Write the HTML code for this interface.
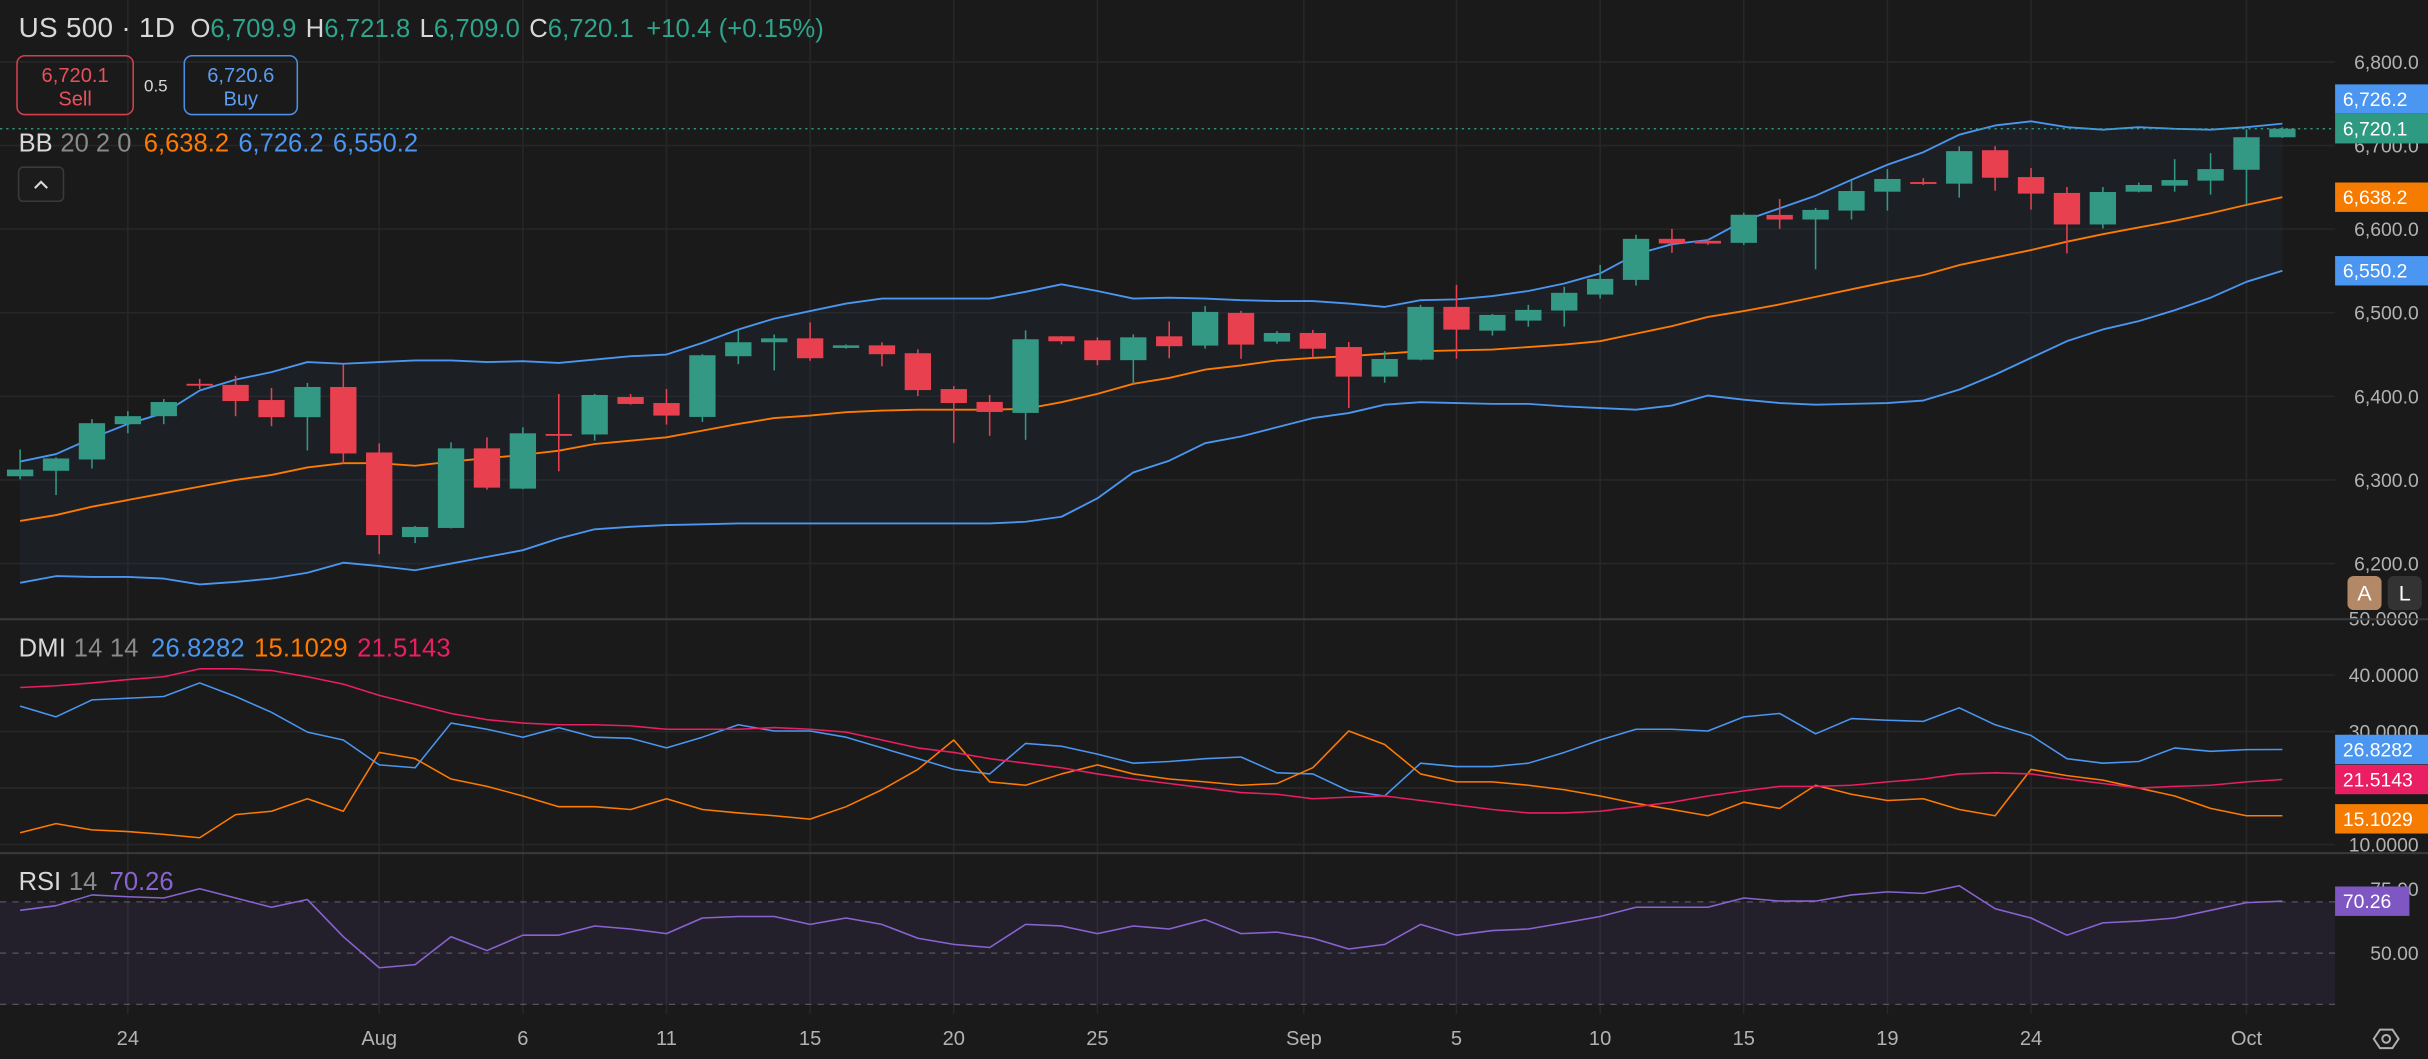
<!DOCTYPE html>
<html><head><meta charset="utf-8"><style>
html,body{margin:0;padding:0;background:#1a1a1a;overflow:hidden}
svg{display:block}
text{font-family:"Liberation Sans",sans-serif}
</style></head><body>
<svg id="chart" width="2428" height="1059" viewBox="0 0 1568 684" preserveAspectRatio="none" xmlns="http://www.w3.org/2000/svg">
<rect x="0" y="0" width="1568" height="684" fill="#1a1a1a"/>
<defs><clipPath id="plotclip"><rect x="0" y="0" width="1508" height="684"/></clipPath>
<clipPath id="mainclip"><rect x="0" y="0" width="1508" height="399"/></clipPath>
<clipPath id="dmiclip"><rect x="0" y="401" width="1508" height="149"/></clipPath>
<clipPath id="rsiclip"><rect x="0" y="552" width="1508" height="103"/></clipPath></defs>
<g id="grid"></g>
<rect x="0" y="582.5" width="1508" height="66.3" fill="rgba(126,87,194,0.10)"/>
<g id="bbfill" clip-path="url(#mainclip)"></g>
<g id="marks"></g>
<g id="axes"></g>
<line x1="0" y1="400" x2="1568" y2="400" stroke="#3a3a3a" stroke-width="1.3"/>
<line x1="0" y1="551" x2="1568" y2="551" stroke="#3a3a3a" stroke-width="1.3"/>
<g>
<text x="12" y="24" font-size="18" fill="#d8d8d8" textLength="101">US 500 · 1D</text>
<text x="123" y="24" font-size="16.5" textLength="409"><tspan fill="#d8d8d8">O</tspan><tspan fill="#2fa48c">6,709.9</tspan><tspan fill="#d8d8d8" dx="6">H</tspan><tspan fill="#2fa48c">6,721.8</tspan><tspan fill="#d8d8d8" dx="6">L</tspan><tspan fill="#2fa48c">6,709.0</tspan><tspan fill="#d8d8d8" dx="6">C</tspan><tspan fill="#2fa48c">6,720.1</tspan><tspan fill="#2fa48c" dx="8">+10.4 (+0.15%)</tspan></text>
</g>
<g>
<rect x="11" y="36" width="75" height="38" rx="5" fill="none" stroke="#d6404c" stroke-width="1"/>
<text x="48.5" y="53" font-size="13" fill="#e8505c" text-anchor="middle">6,720.1</text>
<text x="48.5" y="68" font-size="13" fill="#e8505c" text-anchor="middle">Sell</text>
</g>
<text x="93" y="59" font-size="11" fill="#d8d8d8">0.5</text>
<g>
<rect x="119" y="36" width="73" height="38" rx="5" fill="none" stroke="#4a8ee6" stroke-width="1"/>
<text x="155.5" y="53" font-size="13" fill="#5a9cf0" text-anchor="middle">6,720.6</text>
<text x="155.5" y="68" font-size="13" fill="#5a9cf0" text-anchor="middle">Buy</text>
</g>
<text x="12" y="98" font-size="16.5" textLength="258"><tspan fill="#d8d8d8">BB</tspan><tspan fill="#8a8a8a" dx="5">20 2 0</tspan><tspan fill="#ff7a00" dx="8">6,638.2</tspan><tspan fill="#4a96f0" dx="6">6,726.2</tspan><tspan fill="#4a96f0" dx="6">6,550.2</tspan></text>
<g>
<rect x="12" y="108" width="29" height="22" rx="3" fill="#1c1c1c" stroke="#3a3a3a"/>
<path d="M22.5 121.5 L26.5 117.5 L30.5 121.5" fill="none" stroke="#d8d8d8" stroke-width="1.4"/>
</g>
<text x="12" y="424" font-size="16.5" textLength="279"><tspan fill="#d8d8d8">DMI</tspan><tspan fill="#8a8a8a" dx="5">14 14</tspan><tspan fill="#4a96f0" dx="8">26.8282</tspan><tspan fill="#ff7a00" dx="6">15.1029</tspan><tspan fill="#e91e63" dx="6">21.5143</tspan></text>
<text x="12" y="575" font-size="16.5"><tspan fill="#d8d8d8">RSI</tspan><tspan fill="#8a8a8a" dx="5">14</tspan><tspan fill="#8a63d2" dx="8">70.26</tspan></text>
<g><rect x="1516" y="372" width="22" height="22" rx="4" fill="#b38866"/><text x="1527" y="388" font-size="14" fill="#fff" text-anchor="middle">A</text></g>
<g><rect x="1542" y="372" width="22" height="22" rx="4" fill="#333"/><text x="1553" y="388" font-size="14" fill="#fff" text-anchor="middle">L</text></g>
<g><path d="M1533 671 L1537 665 L1545 665 L1549 671 L1545 677 L1537 677 Z" fill="none" stroke="#b0b0b0" stroke-width="1.3"/><circle cx="1541" cy="671" r="2.5" fill="none" stroke="#b0b0b0" stroke-width="1.3"/></g>
</svg>
<script>
const opens=[6304.4,6311,6324.5,6366.7,6376.3,6415,6413.7,6395.6,6375.1,6411.2,6332.9,6231.7,6242.6,6337.8,6289.6,6355,6354.4,6399.2,6392,6375.4,6448,6464.7,6469.4,6457.9,6461,6451.6,6408.7,6393.3,6380.2,6471.8,6467,6443.3,6471.8,6460.7,6499.8,6465.5,6475.8,6459,6423.6,6443.9,6507,6478.6,6490.6,6502.6,6521.8,6539.3,6588.4,6586,6583.6,6617,6611.5,6622.2,6644.8,6656.3,6654.4,6694.4,6662.3,6643.3,6605.6,6644.8,6652,6658,6671,6709.9];
const highs=[6336.5,6327,6372.7,6382.3,6396.8,6420.9,6424.5,6410,6416,6438.2,6343.8,6245,6345,6351,6363,6402.8,6403,6402.8,6408.7,6450.4,6480.6,6474,6488.5,6462,6464.7,6456.3,6412.3,6401.6,6479,6472,6470.6,6474.2,6489.7,6508,6502.2,6478,6479.4,6465,6454,6509.4,6533.3,6498.6,6509.4,6531,6557.3,6593.2,6600.4,6588.4,6619.6,6636,6625.4,6658.7,6671.8,6661,6699,6699.2,6673,6650.4,6650.4,6655.6,6683.7,6690.9,6719.4,6721.8];
const lows=[6300.8,6282,6313.7,6355.8,6366.7,6408.8,6376.3,6364.3,6335.3,6319.7,6211.2,6224.5,6242,6288.4,6289,6310.4,6347,6390,6366.3,6369.4,6438.5,6431,6442.5,6457,6436,6400.4,6344.4,6352.8,6348,6462.3,6437.3,6415,6445.6,6457,6445,6463,6446.3,6386,6416.4,6443,6445,6472.7,6483.4,6483.4,6517,6532.5,6571.7,6581.2,6581.2,6600.4,6552,6611.5,6622.2,6652.8,6637.7,6646,6623.4,6571,6600.8,6644,6644.8,6641.3,6629.4,6709];
const closes=[6312.4,6325.7,6367.9,6376.3,6393.2,6414,6394.4,6375.1,6411.2,6331.7,6234.1,6243.8,6337.8,6290.8,6355.8,6354,6401.6,6390.9,6377,6449.2,6464.7,6469.4,6445.6,6461,6450.4,6407.5,6392,6381.3,6468.3,6465.9,6443.3,6470.6,6460,6501,6461.9,6475.8,6457,6423.6,6444.7,6507,6479.8,6497.4,6503.4,6523.8,6540.5,6588.4,6582.8,6582.8,6617.2,6611.5,6623,6645.6,6660,6654.8,6693.3,6661.5,6642.5,6605.6,6644.4,6652.8,6658.7,6671.8,6709.9,6720.1];
const bbUpper=[6322,6331,6350,6367,6380,6407,6420,6429,6441,6439,6441,6443,6443,6441,6442,6440,6444,6448,6450,6464,6480,6493,6502,6511,6517,6517,6517,6517,6525,6534,6526,6517,6518,6517,6515,6514,6514,6511,6507,6515,6516,6520,6526,6535,6547,6570,6582,6587,6610,6625,6640,6659,6677,6692,6713,6724,6729,6722,6719,6722,6720,6719,6722,6726.2];
const bbMid=[6251,6258,6268,6276,6284,6292,6300,6306,6315,6320,6320,6317,6322,6326,6330,6335,6343,6347,6351,6359,6367,6374,6377,6381,6383,6384,6384,6384,6385,6393,6403,6415,6422,6432,6437,6443,6446,6448,6451,6454,6455,6456,6459,6462,6466,6475,6484,6495,6502,6510,6519,6528,6537,6545,6557,6566,6575,6585,6594,6602,6610,6619,6629,6638.2];
const bbLower=[6177,6185,6184,6184,6182,6175,6178,6182,6189,6201,6197,6192,6200,6208,6216,6230,6241,6244,6246,6247,6248,6248,6248,6248,6248,6248,6248,6248,6250,6256,6278,6309,6323,6344,6352,6363,6374,6380,6390,6393,6392,6391,6391,6388,6386,6384,6389,6401,6396,6392,6390,6391,6392,6395,6408,6426,6446,6466,6480,6490,6503,6518,6537,6550.2];
const diPlus=[34.5,32.6,35.6,35.9,36.2,38.6,36.2,33.4,29.9,28.5,24.1,23.6,31.5,30.4,29.0,30.7,29.0,28.8,27.1,29.0,31.2,30.1,30.1,29.0,27.1,25.2,23.3,22.5,27.9,27.4,26.0,24.4,24.7,25.2,25.5,22.7,22.5,19.5,18.6,24.4,23.8,23.8,24.4,26.3,28.5,30.4,30.4,30.1,32.6,33.2,29.6,32.3,32.0,31.8,34.2,31.2,29.3,25.2,24.4,24.7,27.1,26.5,26.8,26.8282];
const diMinus=[12.1,13.7,12.6,12.3,11.8,11.2,15.3,15.9,18.1,15.9,26.3,25.2,21.6,20.3,18.6,16.7,16.7,16.2,18.1,16.2,15.6,15.1,14.5,16.7,19.7,23.3,28.5,21.1,20.5,22.5,24.1,22.5,21.6,21.1,20.5,20.8,23.6,30.1,27.7,22.5,21.1,21.1,20.5,19.7,18.6,17.3,16.2,15.1,17.5,16.4,20.5,18.9,17.8,18.1,16.2,15.1,23.3,22.2,21.4,20.0,18.6,16.4,15.1,15.1029];
const adx=[37.8,38.1,38.6,39.2,39.7,41.1,41.1,40.8,39.7,38.4,36.4,34.8,33.2,32.1,31.5,31.2,31.2,31.0,30.4,30.4,30.4,30.7,30.4,29.9,28.5,27.1,26.3,25.2,24.4,23.6,22.5,21.6,20.8,20.0,19.2,18.9,18.1,18.4,18.6,17.8,17.0,16.2,15.6,15.6,15.9,16.7,17.5,18.6,19.5,20.3,20.3,20.5,21.1,21.6,22.5,22.7,22.5,21.6,20.8,20.0,20.3,20.5,21.1,21.5143];
const rsi=[66.7,68.5,72.7,72.0,71.5,75.1,71.5,67.9,70.9,56.4,44.3,45.5,56.4,51.0,57.0,57.0,60.6,59.4,57.6,63.7,64.3,64.3,61.2,63.7,61.2,55.8,53.4,52.2,61.2,60.6,57.6,60.6,59.4,63.1,57.6,58.2,55.8,51.6,53.4,61.2,57.0,58.8,59.4,61.8,64.3,67.9,67.9,67.9,71.5,70.3,70.3,72.7,73.9,73.3,76.3,67.3,63.7,57.0,61.8,62.5,63.7,66.7,69.7,70.26];
const timeLabels=["24","Aug","6","11","15","20","25","Sep","5","10","15","19","24","Oct"];
const timeIdx=[3,10,14,18,22,26,30,35.75,40,44,48,52,56,62];
const priceTicks=[6800,6700,6600,6500,6400,6300,6200];
const dmiTicks=[50,40,30,20,10];
const rsiTicks=[75,50];

const NS="http://www.w3.org/2000/svg";
const xAt=i=>13+23.19*i;
const yPrice=p=>40+(6800-p)*0.54;
const yDmi=v=>436+(40-v)*3.65;
const yRsi=v=>582.5-(v-70)*1.656;
function mk(tag,attrs,parent){const e=document.createElementNS(NS,tag);for(const k in attrs)e.setAttribute(k,attrs[k]);parent.appendChild(e);return e;}
const grid=document.getElementById('grid'),marks=document.getElementById('marks'),axes=document.getElementById('axes'),bbfill=document.getElementById('bbfill');

timeIdx.forEach((ti,k)=>{const x=xAt(ti);
 const l=mk('line',{x1:x,y1:0,x2:x,y2:655,stroke:'#272727','stroke-width':1},grid);
 
 
 const t=mk('text',{x:x,y:675,'font-size':13,fill:'#b2b2b2','text-anchor':'middle'},axes);t.textContent=timeLabels[k];
 
 
});
priceTicks.forEach(p=>{const y=yPrice(p);
 const l=mk('line',{x1:0,y1:y,x2:1508,y2:y,stroke:'#272727','stroke-width':1},grid);
 
 
 const t=mk('text',{x:1562,y:y+4.5,'font-size':12.5,fill:'#b2b2b2','text-anchor':'end'},axes);t.textContent=p.toLocaleString('en-US',{minimumFractionDigits:1});
 
 
});
dmiTicks.forEach(v=>{const y=yDmi(v);
 if(v<50){const l=mk('line',{x1:0,y1:y,x2:1508,y2:y,stroke:'#272727','stroke-width':1},grid);
 
 }
 if(v!==20){const t=mk('text',{x:1562,y:y+4.5,'font-size':12.5,fill:'#b2b2b2','text-anchor':'end'},axes);t.textContent=v.toFixed(4);
 
 }
});
[70,50,30].forEach(v=>{const y=yRsi(v);
 const l=mk('line',{x1:0,y1:y,x2:1508,y2:y,stroke:'#555','stroke-width':0.8,'stroke-dasharray':'4 4'},grid);
 
 
});
rsiTicks.forEach(v=>{const y=yRsi(v);
 const t=mk('text',{x:1562,y:y+4.5,'font-size':12.5,fill:'#b2b2b2','text-anchor':'end'},axes);t.textContent=v.toFixed(2);
 
 
});

let d='';bbUpper.forEach((v,i)=>{d+=(i?'L':'M')+xAt(i)+' '+yPrice(v);});
for(let i=bbLower.length-1;i>=0;i--)d+='L'+xAt(i)+' '+yPrice(bbLower[i]);
const fill=mk('path',{d:d+'Z',fill:'rgba(40,60,90,0.18)'},bbfill);



function line(arr,yf,color,name,clip,w){let p='';arr.forEach((v,i)=>{p+=(i?'L':'M')+xAt(i).toFixed(2)+' '+yf(v).toFixed(2);});
 const e=mk('path',{d:p,fill:'none',stroke:color,'stroke-width':w||1.2,'clip-path':clip,'stroke-linejoin':'round'},marks);
 
 }
line(bbUpper,yPrice,'#4a96f0','bb-upper-line','url(#mainclip)');
line(bbLower,yPrice,'#4a96f0','bb-lower-line','url(#mainclip)');
line(bbMid,yPrice,'#ff7a00','bb-basis-line','url(#mainclip)');

const lp=mk('line',{x1:0,y1:yPrice(6720.1),x2:1508,y2:yPrice(6720.1),stroke:'#2fa48c','stroke-width':0.8,'stroke-dasharray':'1.5 2.5'},marks);



opens.forEach((o,i)=>{const c=closes[i],up=c>=o,col=up?'#339985':'#e8404e',x=xAt(i);
 const g=mk('g',{},marks);
 
 
 mk('line',{x1:x,y1:yPrice(highs[i]),x2:x,y2:yPrice(lows[i]),stroke:col,'stroke-width':1},g);
 const top=yPrice(Math.max(o,c)),bot=yPrice(Math.min(o,c));
 mk('rect',{x:x-8.5,y:top,width:17,height:Math.max(bot-top,1.2),fill:col},g);
});

line(diPlus,yDmi,'#4a96f0','di-plus-line','url(#dmiclip)',1);
line(diMinus,yDmi,'#ff7a00','di-minus-line','url(#dmiclip)',1);
line(adx,yDmi,'#e91e63','adx-line','url(#dmiclip)',1);
line(rsi,yRsi,'#8a63d2','rsi-line','url(#rsiclip)',1);

function badge(y,txt,col,name,w){const g=mk('g',{},axes);
 
 
 mk('rect',{x:1508,y:y-9.5,width:w||60,height:19,fill:col},g);
 const t=mk('text',{x:1513,y:y+4.5,'font-size':12.5,fill:'#fff'},g);t.textContent=txt;}
badge(64,'6,726.2','#4a96f0','bb-upper-badge');
badge(yPrice(6720.1),'6,720.1','#2f9a82','last-price-badge');
badge(yPrice(6638.2),'6,638.2','#f57c00','bb-basis-badge');
badge(yPrice(6550.2),'6,550.2','#4a96f0','bb-lower-badge');
badge(yDmi(26.8282),'26.8282','#4a96f0','di-plus-badge');
badge(yDmi(21.5143),'21.5143','#e91e63','adx-badge');
badge(yDmi(15.1029)+2,'15.1029','#f57c00','di-minus-badge');
badge(yRsi(70.26),'70.26','#7e57c2','rsi-badge',48);
</script>
</body></html>
